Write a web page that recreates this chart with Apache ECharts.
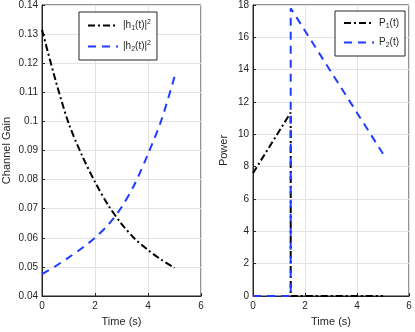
<!DOCTYPE html>
<html>
<head>
<meta charset="utf-8">
<script src="https://cdn.jsdelivr.net/npm/echarts@6/dist/echarts.min.js"></script>
<style>
  html, body { margin: 0; padding: 0; background: #fff; }
  #chart { width: 415px; height: 332px; }
</style>
</head>
<body>
<div id="chart"></div>
<script>
// channel gains
var tGain = [0, 0.5, 1, 1.5, 2, 2.5, 3, 3.5, 4, 4.5, 5];
var h1 = [0.1315, 0.1145, 0.0995, 0.0885, 0.0792, 0.0712, 0.0648, 0.0597, 0.0558, 0.0525, 0.0497];
var h2 = [0.0475, 0.0502, 0.0532, 0.0564, 0.0600, 0.0645, 0.0705, 0.0785, 0.0888, 0.1003, 0.1153];

// power allocation, right panel (switch at t ~ 1.45)
var tP1 = [0, 1.45, 1.45, 5];
var p1 = [7.6, 11.35, 0, 0];
var tP2 = [0, 1.45, 1.45, 5];
var p2 = [0, 0, 17.8, 8.8];

var gainTicks = { min: 0.04, max: 0.14, interval: 0.01 };
var powerTicks = { min: 0, max: 18, interval: 2 };
var timeTicks = { min: 0, max: 6, interval: 2 };

var dashDot = [7, 3, 2, 3];
var dashed = [8, 6];
var txt = '#262626';
var font = 'Liberation Sans, Arial, sans-serif';

function pairs(xs, ys) {
  return xs.map(function (x, i) { return [x, ys[i]]; });
}

function xAxisCfg(idx) {
  return {
    gridIndex: idx, type: 'value',
    min: timeTicks.min, max: timeTicks.max, interval: timeTicks.interval,
    name: 'Time (s)', nameLocation: 'middle', nameGap: 20,
    nameTextStyle: { color: txt, fontSize: 11, fontFamily: font },
    axisLine: { onZero: false, lineStyle: { color: txt } },
    axisTick: { inside: true, length: 3, lineStyle: { color: txt } },
    axisLabel: { color: txt, fontSize: 10, fontFamily: font, margin: 5 },
    splitLine: { show: true, lineStyle: { color: '#e3e3e3' } }
  };
}

function yAxisCfg(idx, ticks, name, gap) {
  return {
    gridIndex: idx, type: 'value',
    min: ticks.min, max: ticks.max, interval: ticks.interval,
    name: name, nameLocation: 'middle', nameGap: gap,
    nameTextStyle: { color: txt, fontSize: 11, fontFamily: font },
    axisLine: { onZero: false, lineStyle: { color: txt } },
    axisTick: { inside: true, length: 3, lineStyle: { color: txt } },
    axisLabel: {
      color: txt, fontSize: 10, fontFamily: font, margin: 4,
      formatter: function (v) { return String(+v.toFixed(2)); }
    },
    splitLine: { show: true, lineStyle: { color: '#e3e3e3' } }
  };
}

var rich = {
  n: { fontSize: 10, color: txt, fontFamily: font },
  sub: { fontSize: 7, color: txt, fontFamily: font, padding: [6, 0, 0, 0] },
  sup: { fontSize: 7, color: txt, fontFamily: font, padding: [0, 0, 6, 0] }
};

var labels = {
  h1: '{n||h}{sub|1}{n|(t)|}{sup|2}',
  h2: '{n||h}{sub|2}{n|(t)|}{sup|2}',
  P1: '{n|P}{sub|1}{n|(t)}',
  P2: '{n|P}{sub|2}{n|(t)}'
};

function legendCfg(names, left, top) {
  return {
    data: names, left: left, top: top, orient: 'vertical',
    itemWidth: 30, itemHeight: 10, itemGap: 8,
    padding: [7, 6, 7, 8],
    itemStyle: { opacity: 0 },
    backgroundColor: '#fff', borderColor: txt, borderWidth: 1, borderRadius: 0,
    formatter: function (n) { return labels[n]; },
    textStyle: { rich: rich }
  };
}

function lineSeries(name, gi, xs, ys, color, dash, smooth) {
  return {
    name: name, type: 'line', xAxisIndex: gi, yAxisIndex: gi,
    smooth: smooth, symbol: 'none', data: pairs(xs, ys), color: color,
    lineStyle: { color: color, width: 2, type: dash }
  };
}

var chart = echarts.init(document.getElementById('chart'));
chart.setOption({
  backgroundColor: '#fff',
  animation: false,
  grid: [
    { left: 41, right: 214, top: 5, bottom: 36, show: true, borderColor: txt, borderWidth: 1, backgroundColor: '#fff' },
    { left: 253, right: 6, top: 5, bottom: 36, show: true, borderColor: txt, borderWidth: 1, backgroundColor: '#fff' }
  ],
  legend: [
    legendCfg(['h1', 'h2'], 79, 12),
    legendCfg(['P1', 'P2'], 335, 11)
  ],
  xAxis: [xAxisCfg(0), xAxisCfg(1)],
  yAxis: [
    yAxisCfg(0, gainTicks, 'Channel Gain', 30),
    yAxisCfg(1, powerTicks, 'Power', 24)
  ],
  series: [
    lineSeries('h1', 0, tGain, h1, '#000', dashDot, 0.3),
    lineSeries('h2', 0, tGain, h2, '#1f3dff', dashed, 0.3),
    lineSeries('P1', 1, tP1, p1, '#000', dashDot, false),
    lineSeries('P2', 1, tP2, p2, '#1f3dff', dashed, false)
  ]
});
</script>
</body>
</html>
